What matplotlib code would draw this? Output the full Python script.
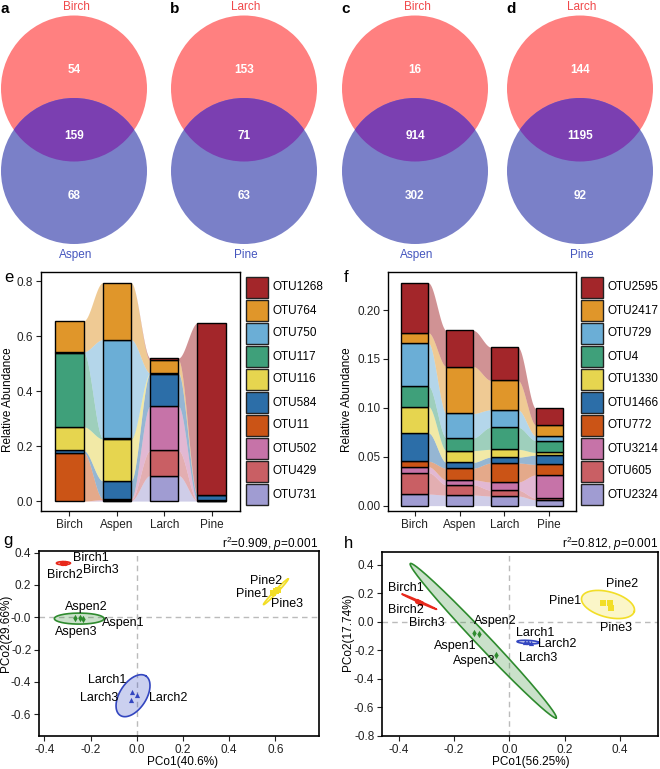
import numpy as np
import matplotlib.pyplot as plt
from matplotlib.patches import Circle, Rectangle

plt.rcParams['font.family'] = ['Liberation Sans', 'DejaVu Sans']
plt.rcParams['mathtext.fontset'] = 'custom'
plt.rcParams['mathtext.rm'] = 'Liberation Sans'
plt.rcParams['mathtext.it'] = 'Liberation Sans:italic'
plt.rcParams['axes.unicode_minus'] = False

W, H = 660, 769

# ---- data: Venn counts (a-d) ----
venn_letters = ["a", "b", "c", "d"]
venn_names = [("Birch", "Aspen"), ("Larch", "Pine"), ("Birch", "Aspen"), ("Larch", "Pine")]
venn_only1 = [54, 153, 16, 144]
venn_both = [159, 71, 914, 1195]
venn_only2 = [68, 63, 302, 92]

hosts = ["Birch", "Aspen", "Larch", "Pine"]

# ---- data: relative abundance, legend order, columns Birch/Aspen/Larch/Pine ----
otu_e = ["OTU1268", "OTU764", "OTU750", "OTU117", "OTU116",
         "OTU584", "OTU11", "OTU502", "OTU429", "OTU731"]
ab_e = [
    [0.000, 0.000, 0.0085, 0.625],
    [0.113, 0.207, 0.046, 0.000],
    [0.003, 0.358, 0.002, 0.001],
    [0.270, 0.003, 0.000, 0.000],
    [0.086, 0.152, 0.001, 0.000],
    [0.008, 0.065, 0.118, 0.018],
    [0.176, 0.003, 0.000, 0.000],
    [0.000, 0.002, 0.161, 0.002],
    [0.000, 0.002, 0.091, 0.001],
    [0.000, 0.002, 0.093, 0.001],
]

otu_f = ["OTU2595", "OTU2417", "OTU729", "OTU4", "OTU1330",
         "OTU1466", "OTU772", "OTU3214", "OTU605", "OTU2324"]
ab_f = [
    [0.0510, 0.0370, 0.0340, 0.0170],
    [0.0105, 0.0480, 0.0300, 0.0110],
    [0.0440, 0.0250, 0.0178, 0.0049],
    [0.0210, 0.0130, 0.0227, 0.0122],
    [0.0270, 0.0120, 0.0080, 0.0028],
    [0.0290, 0.0060, 0.0060, 0.0094],
    [0.0056, 0.0120, 0.0195, 0.0108],
    [0.0060, 0.0050, 0.0083, 0.0237],
    [0.0220, 0.0105, 0.0060, 0.0017],
    [0.0118, 0.0108, 0.0098, 0.0060],
]

otu_colors = ['#A3262A', '#E0962A', '#6BAED6', '#3FA07A', '#E6D54F',
              '#2C6EA8', '#CB5416', '#C673A8', '#C95F64', '#A09CD2']

# ---- data: PCoA coordinates ----
samples = ["Birch1", "Birch2", "Birch3", "Aspen1", "Aspen2", "Aspen3",
           "Larch1", "Larch2", "Larch3", "Pine1", "Pine2", "Pine3"]
groups = [s[:-1] for s in samples]

g_x = [-0.310, -0.325, -0.318, -0.234, -0.246, -0.267,
       -0.022, 0.000, -0.026, 0.590, 0.612, 0.605]
g_y = [0.336, 0.335, 0.333, -0.012, -0.006, -0.006,
       -0.463, -0.480, -0.511, 0.148, 0.166, 0.160]
g_lab_x = [-0.197, -0.310, -0.156, -0.058, -0.217, -0.260,
           -0.127, 0.137, -0.163, 0.500, 0.562, 0.652]
g_lab_y = [0.365, 0.262, 0.293, -0.033, 0.066, -0.093,
           -0.388, -0.501, -0.501, 0.142, 0.225, 0.082]

h_x = [-0.335, -0.325, -0.318, -0.126, -0.110, -0.047,
       0.055, 0.080, 0.068, 0.338, 0.364, 0.367]
h_y = [0.148, 0.141, 0.135, -0.079, -0.088, -0.230,
       -0.138, -0.145, -0.143, 0.131, 0.133, 0.100]
h_lab_x = [-0.374, -0.374, -0.297, -0.194, -0.049, -0.128,
           0.092, 0.173, 0.103, 0.200, 0.406, 0.385]
h_lab_y = [0.237, 0.080, -0.009, -0.172, 0.003, -0.275,
           -0.076, -0.158, -0.254, 0.145, 0.262, -0.041]

# ellipse semi-axis vectors (data units) per group
g_ell = {"Birch": ((0.030, 0.0), (0.0, 0.010)),
         "Aspen": ((0.1075, 0.0), (0.0, 0.034)),
         "Larch": ((0.0554, 0.122), (0.0484, -0.0447)),
         "Pine": ((0.0535, 0.0795), (0.0047, -0.0064))}
h_ell = {"Birch": ((0.062, -0.053), (-0.0009, -0.0045)),
         "Aspen": ((0.2635, -0.5405), (0.0175, 0.032)),
         "Larch": ((0.040, -0.004), (0.0, 0.012)),
         "Pine": ((0.095, -0.049), (0.0118, 0.0857))}

grp_color = {"Birch": '#E8291C', "Aspen": '#2E8B2E', "Larch": '#3346C0', "Pine": '#F2DE27'}
grp_marker = {"Birch": 'o', "Aspen": 'd', "Larch": '^', "Pine": 's'}


def px_box(l, t, r, b):
    return [l / W, 1 - b / H, (r - l) / W, (b - t) / H]


fig = plt.figure(figsize=(W / 100, H / 100), dpi=100)

# ---------------- Venn diagrams ----------------
venn_cx = [74, 244, 415, 580]
for i, cx in enumerate(venn_cx):
    ax = fig.add_axes(px_box(cx - 82, 0, cx + 82, 275))
    ax.set_xlim(-82, 82)
    ax.set_ylim(275, 0)
    ax.axis('off')
    c1 = Circle((0, 88.5), 73, fc='#FF8080', ec='none')
    c2 = Circle((0, 171), 73, fc='#7A80C8', ec='none')
    ax.add_patch(c1)
    ax.add_patch(c2)
    lens = Circle((0, 171), 73, fc='#7B3FB1', ec='none')
    ax.add_patch(lens)
    lens.set_clip_path(c1)
    for yy, n in zip([70, 136, 196], [venn_only1[i], venn_both[i], venn_only2[i]]):
        ax.text(0, yy, str(n), color='white', fontsize=8.5, fontweight='bold',
                ha='center', va='center')
    ax.text(2, 7, venn_names[i][0], color='#F0484A', fontsize=8.5, ha='center', va='center')
    ax.text(2, 255, venn_names[i][1], color='#4556BE', fontsize=8.5, ha='center', va='center')
    ax.text(-69, 13, venn_letters[i], fontsize=11, fontweight='bold', ha='center', va='baseline')


# ---------------- alluvial bar charts ----------------
def alluvial(ax, vals, colors):
    vals = np.array(vals)[::-1]
    cols = colors[::-1]
    tops = np.cumsum(vals, axis=0)
    bots = tops - vals
    xs = np.arange(1, len(hosts) + 1)
    w = 0.6
    t = np.linspace(0, 1, 80)
    s = t * t * (3 - 2 * t)
    for i in range(len(xs) - 1):
        x0, x1 = xs[i] + w / 2, xs[i + 1] - w / 2
        xx = x0 + (x1 - x0) * t
        for k in range(len(vals)):
            lo = bots[k, i] + (bots[k, i + 1] - bots[k, i]) * s
            hi = tops[k, i] + (tops[k, i + 1] - tops[k, i]) * s
            ax.fill_between(xx, lo, hi, color=cols[k], alpha=0.5, lw=0, zorder=1)
    for k in range(len(vals)):
        for i in range(len(xs)):
            if vals[k, i] > 0:
                ax.bar(xs[i], vals[k, i], w, bottom=bots[k, i], color=cols[k],
                       edgecolor='black', lw=1, zorder=2)
    ax.set_xticks(xs)
    ax.set_xticklabels(hosts)
    ax.set_xlim(0.4, 4.6)
    for sp in ax.spines.values():
        sp.set_linewidth(1)
    ax.tick_params(labelsize=8.5, length=3.5, width=0.8, pad=2, colors='#222222')


ax_e = fig.add_axes(px_box(41, 272, 240, 511))
alluvial(ax_e, ab_e, otu_colors)
ax_e.set_ylim(-0.036, 0.833)
ax_e.set_yticks([0.0, 0.2, 0.4, 0.6, 0.8])
ax_e.set_yticklabels(['0.0', '0.2', '0.4', '0.6', '0.8'])

ax_f = fig.add_axes(px_box(388, 272, 576, 511))
alluvial(ax_f, ab_f, otu_colors)
ax_f.set_ylim(-0.0055, 0.239)
ax_f.set_yticks([0.0, 0.05, 0.10, 0.15, 0.20])
ax_f.set_yticklabels(['0.00', '0.05', '0.10', '0.15', '0.20'])


# ---------------- PCoA ----------------
def pcoa(ax, xs, ys, labx, laby, ells):
    ax.axhline(0, color='#BBBBBB', ls=(0, (4, 3)), lw=1, zorder=0)
    ax.axvline(0, color='#BBBBBB', ls=(0, (4, 3)), lw=1, zorder=0)
    xs = np.array(xs)
    ys = np.array(ys)
    tt = np.linspace(0, 2 * np.pi, 200)
    for g in hosts:
        idx = [j for j, gg in enumerate(groups) if gg == g]
        cx, cy = xs[idx].mean(), ys[idx].mean()
        a1, a2 = ells[g]
        ex = cx + a1[0] * np.cos(tt) + a2[0] * np.sin(tt)
        ey = cy + a1[1] * np.cos(tt) + a2[1] * np.sin(tt)
        ax.fill(ex, ey, fc=grp_color[g], alpha=0.25, ec='none', zorder=1)
        ax.plot(ex, ey, color=grp_color[g], lw=1.2, zorder=2)
        ax.scatter(xs[idx], ys[idx], marker=grp_marker[g], s=14, color=grp_color[g],
                   lw=0, zorder=3)
    for j, name in enumerate(samples):
        ax.text(labx[j], laby[j], name, fontsize=9, ha='center', va='center', zorder=4)
    for sp in ax.spines.values():
        sp.set_linewidth(1.2)
    ax.tick_params(labelsize=8.5, length=3.5, width=0.8, pad=2, colors='#222222')


ax_g = fig.add_axes(px_box(39, 551, 319, 736))
pcoa(ax_g, g_x, g_y, g_lab_x, g_lab_y, g_ell)
ax_g.set_xlim(-0.423, 0.789)
ax_g.set_ylim(-0.734, 0.41)
ax_g.set_xticks([-0.4, -0.2, 0.0, 0.2, 0.4, 0.6])
ax_g.set_xticklabels(['-0.4', '-0.2', '0.0', '0.2', '0.4', '0.6'])
ax_g.set_yticks([0.4, 0.2, 0.0, -0.2, -0.4, -0.6])
ax_g.set_yticklabels(['0.4', '0.2', '-0.0', '-0.2', '-0.4', '-0.6'])

ax_h = fig.add_axes(px_box(382, 552, 658, 736))
pcoa(ax_h, h_x, h_y, h_lab_x, h_lab_y, h_ell)
ax_h.set_xlim(-0.46, 0.537)
ax_h.set_ylim(-0.8, 0.489)
ax_h.set_xticks([-0.4, -0.2, 0.0, 0.2, 0.4])
ax_h.set_xticklabels(['-0.4', '-0.2', '0.0', '0.2', '0.4'])
ax_h.set_yticks([0.4, 0.2, 0.0, -0.2, -0.4, -0.6, -0.8])
ax_h.set_yticklabels(['0.4', '0.2', '0.0', '-0.2', '-0.4', '-0.6', '-0.8'])

# ---------------- overlay: legends, titles, letters ----------------
ov = fig.add_axes([0, 0, 1, 1], zorder=10)
ov.set_xlim(0, W)
ov.set_ylim(H, 0)
ov.axis('off')
ov.patch.set_alpha(0)

for x_key, names in [(246, otu_e), (581, otu_f)]:
    for k, name in enumerate(names):
        y0 = 277 + 23 * k
        ov.add_patch(Rectangle((x_key, y0), 22, 21, fc=otu_colors[k], ec='#222222', lw=1))
        ov.text(x_key + 26.5, y0 + 10.5, name, fontsize=8.5, ha='left', va='center')

ov.text(8, 400, 'Relative Abundance', rotation=90, fontsize=8.5, ha='center', va='center')
ov.text(347, 400, 'Relative Abundance', rotation=90, fontsize=8.5, ha='center', va='center')
ov.text(183, 762, 'PCo1(40.6%)', fontsize=8.5, ha='center', va='center')
ov.text(6, 633, 'PCo2(29.66%)', rotation=90, fontsize=8.5, ha='center', va='center')
ov.text(531, 762, 'PCo1(56.25%)', fontsize=8.5, ha='center', va='center')
ov.text(348, 632, 'PCo2(17.74%)', rotation=90, fontsize=8.5, ha='center', va='center')
ov.text(318, 544, r'r$^2$=0.909, $p$=0.001', fontsize=8.5, ha='right', va='center')
ov.text(658, 544, r'r$^2$=0.812, $p$=0.001', fontsize=8.5, ha='right', va='center')

ov.text(4, 282, 'e', fontsize=12, ha='left', va='baseline')
ov.text(344, 282, 'f', fontsize=12, ha='left', va='baseline')
ov.text(3, 545, 'g', fontsize=12, ha='left', va='baseline')
ov.text(344, 548, 'h', fontsize=12, ha='left', va='baseline')

fig.savefig('out.png', dpi=100)
